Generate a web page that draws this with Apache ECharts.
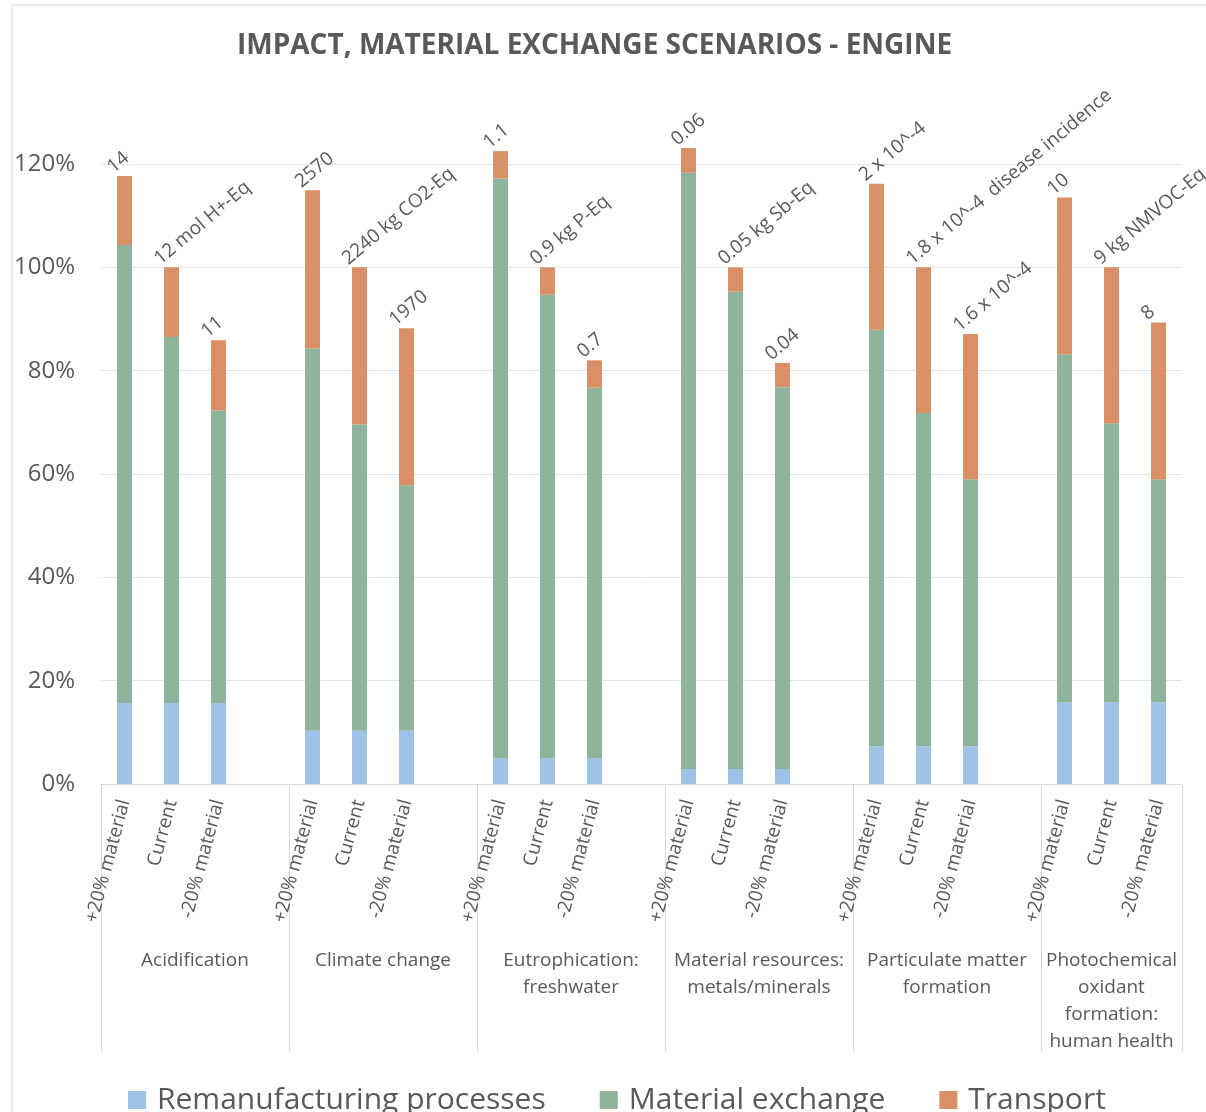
<!DOCTYPE html>
<html>
<head>
<meta charset="utf-8">
<script src="https://cdn.jsdelivr.net/npm/echarts@6/dist/echarts.min.js"></script>
<style>
  html, body { margin: 0; padding: 0; background: #fff; }
  #chart { width: 1206px; height: 1112px; }
</style>
</head>
<body>
<div id="chart"></div>
<script>
// scenario slots, '' = blank slot between impact groups
const scenarios = ['+20% material', 'Current', '-20% material', '',
  '+20% material', 'Current', '-20% material', '',
  '+20% material', 'Current', '-20% material', '',
  '+20% material', 'Current', '-20% material', '',
  '+20% material', 'Current', '-20% material', '',
  '+20% material', 'Current', '-20% material']

// impact category names and the half-slot index where each is centred
const groupNames = ['Acidification', 'Climate change', 'Eutrophication:\nfreshwater',
  'Material resources:\nmetals/minerals', 'Particulate matter\nformation',
  'Photochemical\noxidant\nformation:\nhuman health']
const groupCenters = [4, 12, 20, 28, 36, 43]
// half-slot indices of the group separators
const groupSeps = [0, 8, 16, 24, 32, 40, 46]

// shares relative to "Current" total (1 = 100%)
const remanufacturing = [0.157, 0.157, 0.157, null, 0.103, 0.103, 0.103, null,
  0.050, 0.050, 0.050, null, 0.029, 0.029, 0.029, null,
  0.073, 0.073, 0.073, null, 0.158, 0.158, 0.158]
const materialExchange = [0.886, 0.708, 0.566, null, 0.740, 0.593, 0.475, null,
  1.122, 0.897, 0.717, null, 1.154, 0.924, 0.739, null,
  0.806, 0.645, 0.517, null, 0.674, 0.540, 0.432]
const transport = [0.134, 0.135, 0.136, null, 0.306, 0.304, 0.304, null,
  0.053, 0.053, 0.053, null, 0.048, 0.047, 0.047, null,
  0.283, 0.282, 0.281, null, 0.303, 0.302, 0.303]

// absolute values written on top of each bar
const topLabels = ['14', '12 mol H+-Eq', '11', '',
  '2570', '2240 kg CO2-Eq', '1970', '',
  '1.1', '0.9 kg P-Eq', '0.7', '',
  '0.06', '0.05 kg Sb-Eq', '0.04', '',
  '2 x 10^-4', '1.8 x 10^-4  disease incidence', '1.6 x 10^-4', '',
  '10', '9 kg NMVOC-Eq', '8']

const yTicks = [0, 0.2, 0.4, 0.6, 0.8, 1.0, 1.2]

// second level axis: 47 half-slot positions
const groupAxis = []
for (let i = 0; i <= 46; i++) {
  const g = groupCenters.indexOf(i)
  groupAxis.push(g >= 0 ? groupNames[g] : '')
}

const textColor = '#595959'
const font = 'Open Sans'

let myCharts = echarts.init(document.getElementById('chart'))
myCharts.setOption({
  animation: false,
  textStyle: { fontFamily: font },
  // light frame around the chart
  graphic: [{
    type: 'rect',
    shape: { x: 12, y: 5, width: 1200, height: 1120 },
    style: { fill: 'none', stroke: '#d9d9d9', lineWidth: 1 },
    silent: true
  }],
  title: {
    text: 'IMPACT, MATERIAL EXCHANGE SCENARIOS - ENGINE',
    left: 232,
    top: 27,
    textStyle: { color: textColor, fontSize: 28, fontWeight: 'bold', fontFamily: font }
  },
  legend: {
    left: 123,
    top: 1080,
    icon: 'rect',
    itemWidth: 18,
    itemHeight: 18,
    itemGap: 54,
    textStyle: { color: textColor, fontSize: 30, fontFamily: font, padding: [0, 0, 0, 6] },
    data: ['Remanufacturing processes', 'Material exchange', 'Transport']
  },
  grid: {
    left: 101,
    right: 24,
    top: 164,
    bottom: 328,
    containLabel: false
  },
  xAxis: [
    {
      type: 'category',
      data: scenarios,
      position: 'bottom',
      axisLine: { show: true, lineStyle: { color: '#d9d9d9' } },
      axisTick: { show: false },
      axisLabel: {
        rotate: 75,
        interval: 0,
        margin: 16,
        color: textColor,
        fontSize: 19,
        fontFamily: font
      }
    },
    {
      type: 'category',
      data: groupAxis,
      position: 'bottom',
      boundaryGap: false,
      axisLine: { show: false },
      axisTick: {
        show: true,
        length: 268,
        interval: (i) => groupSeps.includes(i),
        lineStyle: { color: '#d9d9d9' }
      },
      axisLabel: {
        interval: (i, v) => v !== '',
        margin: 163,
        color: textColor,
        fontSize: 19,
        lineHeight: 27,
        verticalAlign: 'top',
        fontFamily: font
      }
    }
  ],
  yAxis: {
    type: 'value',
    min: 0,
    max: 1.2,
    interval: 0.2,
    axisLine: { show: false },
    axisTick: { show: false },
    splitLine: { lineStyle: { color: '#e3e3e3' } },
    axisLabel: {
      margin: 26,
      color: textColor,
      fontSize: 24,
      fontFamily: font,
      formatter: (v) => yTicks.includes(Math.round(v * 10) / 10) ? Math.round(v * 100) + '%' : ''
    }
  },
  series: [
    {
      name: 'Remanufacturing processes',
      type: 'bar',
      stack: 'total',
      barWidth: 15,
      clip: false,
      itemStyle: { color: '#9dc3e6' },
      data: remanufacturing
    },
    {
      name: 'Material exchange',
      type: 'bar',
      stack: 'total',
      barWidth: 15,
      clip: false,
      itemStyle: { color: '#8eb59b' },
      data: materialExchange
    },
    {
      name: 'Transport',
      type: 'bar',
      stack: 'total',
      barWidth: 15,
      clip: false,
      itemStyle: { color: '#d99066' },
      label: {
        show: true,
        position: 'top',
        distance: 6,
        rotate: 40,
        align: 'left',
        verticalAlign: 'bottom',
        offset: [-11, 0],
        color: textColor,
        fontSize: 19,
        fontFamily: font,
        formatter: (p) => topLabels[p.dataIndex]
      },
      data: transport
    }
  ]
})
</script>
</body>
</html>
